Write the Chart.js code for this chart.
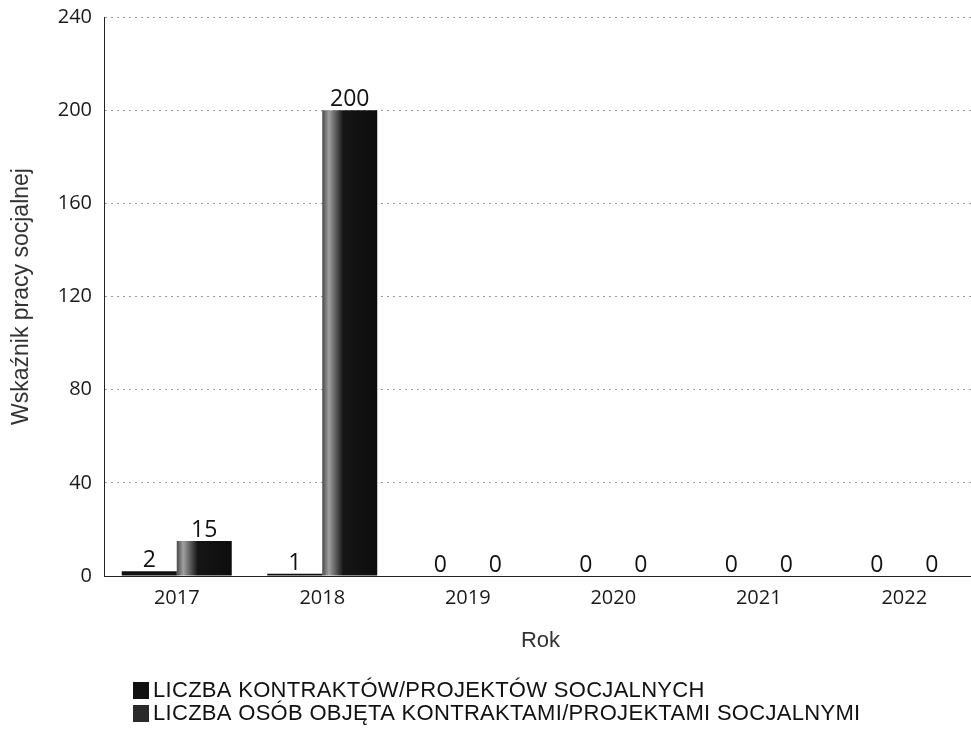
<!DOCTYPE html>
<html>
<head>
<meta charset="utf-8">
<script src="https://cdn.jsdelivr.net/npm/chart.js@4.4.1/dist/chart.umd.min.js"></script>
<style>
  html, body { margin: 0; padding: 0; background: #fff; overflow: hidden; }
  #wrap { width: 977px; height: 729px; }
</style>
</head>
<body>
<div id="wrap"><canvas id="myChart" width="977" height="729"></canvas></div>
<script>
// data
var years = ['2017', '2018', '2019', '2020', '2021', '2022'];
var kontrakty = [2, 1, 0, 0, 0, 0];
var osoby = [15, 200, 0, 0, 0, 0];
var seriesLabels = [
    'LICZBA KONTRAKTÓW/PROJEKTÓW SOCJALNYCH',
    'LICZBA OSÓB OBJĘTA KONTRAKTAMI/PROJEKTAMI SOCJALNYMI'
];
var yTicks = [0, 40, 80, 120, 160, 200, 240];

var CAT_PCT = 0.756;

// speckled grey edge on the left side of the second bar, like the scan
function osobyFill(ctx) {
    var chart = ctx.chart;
    var x = chart.scales && chart.scales.x;
    if (!x || ctx.dataIndex === undefined) return '#151515';
    var center = x.getPixelForValue(ctx.dataIndex);
    var barW = (x.width / years.length) * CAT_PCT / 2;
    if (!isFinite(center) || !isFinite(barW) || barW <= 0) return '#151515';
    var g = chart.ctx.createLinearGradient(center, 0, center + barW, 0);
    g.addColorStop(0, '#4a4a4a');
    g.addColorStop(0.12, '#a0a0a0');
    g.addColorStop(0.25, '#5a5a5a');
    g.addColorStop(0.38, '#151515');
    g.addColorStop(1, '#0d0d0d');
    return g;
}

// value labels above bars
var valueLabels = {
    id: 'valueLabels',
    afterDatasetsDraw: function (chart) {
        var c = chart.ctx;
        c.save();
        c.font = '23px "Open Sans", "Noto Sans", sans-serif';
        c.fillStyle = '#111';
        c.textAlign = 'center';
        c.textBaseline = 'alphabetic';
        chart.data.datasets.forEach(function (ds, di) {
            chart.getDatasetMeta(di).data.forEach(function (bar, i) {
                c.fillText(String(ds.data[i]), bar.x, bar.y - 4);
            });
        });
        c.restore();
    }
};

// legend drawn below, left side, one row per series
var sideLegend = {
    id: 'sideLegend',
    afterDraw: function (chart) {
        var c = chart.ctx;
        c.save();
        c.font = '22px "Liberation Sans", Arial, sans-serif';
        c.letterSpacing = '0.3px';
        c.textBaseline = 'middle';
        c.textAlign = 'left';
        var rows = [690, 713];
        chart.data.datasets.forEach(function (ds, di) {
            var y = rows[di];
            c.fillStyle = di === 0 ? '#111' : '#2a2a2a';
            c.fillRect(133, y - 8, 16, 17);
            c.fillStyle = '#111';
            c.fillText(ds.label, 153, y + 1);
        });
        c.restore();
    }
};

var ctx = document.getElementById('myChart');
var myChart = new Chart(ctx, {
    type: 'bar',
    data: {
        labels: years,
        datasets: [{
            label: seriesLabels[0],
            data: kontrakty,
            backgroundColor: '#111111',
            categoryPercentage: CAT_PCT,
            barPercentage: 1
        }, {
            label: seriesLabels[1],
            data: osoby,
            backgroundColor: osobyFill,
            categoryPercentage: CAT_PCT,
            barPercentage: 1
        }]
    },
    options: {
        responsive: false,
        animation: false,
        layout: { padding: { top: 17, right: 0, bottom: 69, left: 0 } },
        plugins: {
            legend: { display: false },
            tooltip: { enabled: false }
        },
        scales: {
            x: {
                grid: { display: false, drawTicks: false },
                border: { display: true, color: '#222', width: 1 },
                ticks: {
                    color: '#1a1a1a',
                    padding: 10,
                    font: { family: '"Open Sans", "Noto Sans", sans-serif', size: 20 }
                },
                title: {
                    display: true,
                    text: 'Rok',
                    color: '#333',
                    padding: { top: 0, bottom: 6 },
                    font: { family: '"Liberation Sans", Arial, sans-serif', size: 22 }
                },
                afterFit: function (scale) { scale.height = 84; }
            },
            y: {
                min: 0,
                max: 240,
                afterBuildTicks: function (scale) {
                    scale.ticks = yTicks.map(function (v) { return { value: v }; });
                },
                grid: {
                    color: '#9a9a9a',
                    lineWidth: 1,
                    drawTicks: false
                },
                border: { display: true, color: '#222', width: 1, dash: [2, 4] },
                ticks: {
                    color: '#1a1a1a',
                    padding: 12,
                    font: { family: '"Open Sans", "Noto Sans", sans-serif', size: 20 }
                },
                title: {
                    display: true,
                    text: 'Wskaźnik pracy socjalnej',
                    color: '#333',
                    padding: { top: 8, bottom: 0 },
                    font: { family: '"Liberation Sans", Arial, sans-serif', size: 23 }
                },
                afterFit: function (scale) {
                    scale.width = 104;
                    scale.paddingTop = 0;
                    scale.paddingBottom = 0;
                }
            }
        }
    },
    plugins: [valueLabels, sideLegend]
});
</script>
</body>
</html>
